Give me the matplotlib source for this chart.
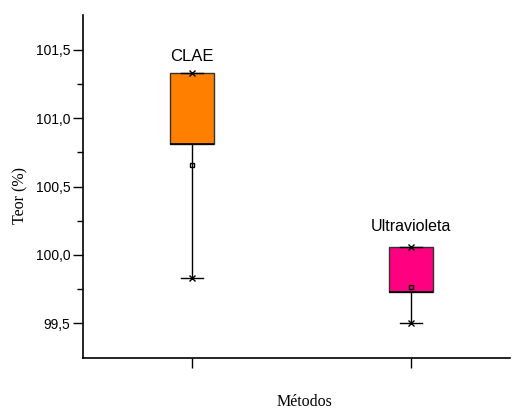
import matplotlib.pyplot as plt
from matplotlib.ticker import MultipleLocator, FixedLocator, FuncFormatter

# values
metodos = ["CLAE", "Ultravioleta"]
q1 = [100.81, 99.73]
q3 = [101.33, 100.056]
minimo = [99.83, 99.50]
maximo = [101.33, 100.056]
media = [100.656, 99.764]
cores = ["#FF8000", "#FF0080"]
menores = [99.75, 100.25, 100.75, 101.25]

fig = plt.figure(figsize=(5.12, 4.12), dpi=100)
ax = fig.add_axes([83 / 512, 1 - 358 / 412, 427 / 512, 343 / 412])

stats = []
for i, nome in enumerate(metodos):
    stats.append({
        "label": nome,
        "q1": q1[i],
        "q3": q3[i],
        "med": q1[i],
        "whislo": minimo[i],
        "whishi": maximo[i],
        "fliers": [],
    })

pos = [1, 2]
bp = ax.bxp(
    stats,
    positions=pos,
    widths=0.2,
    patch_artist=True,
    showfliers=False,
    boxprops=dict(linewidth=1.0, edgecolor="#333333"),
    whiskerprops=dict(linewidth=1.0, color="black"),
    capprops=dict(linewidth=1.0, color="black"),
    medianprops=dict(linewidth=1.2, color="black"),
    capwidths=0.1,
)
for patch, c in zip(bp["boxes"], cores):
    patch.set_facecolor(c)

# max / min crosses and mean squares
for i in range(len(metodos)):
    ax.plot([pos[i], pos[i]], [minimo[i], maximo[i]], linestyle="none",
            marker="x", markersize=3.8, color="black", markeredgewidth=1.0, zorder=4)
    ax.plot(pos[i], media[i], linestyle="none", marker="s", markersize=3,
            markerfacecolor="none", markeredgecolor="black", markeredgewidth=1.0, zorder=4)

# labels over each box
ax.text(1, 101.417, "CLAE", ha="center", va="baseline", fontsize=12,
        family="Liberation Sans")
ax.text(2, 100.175, "Ultravioleta", ha="center", va="baseline", fontsize=11.5,
        family="Liberation Sans")

ax.set_xlim(0.5, 2.453)
ax.set_ylim(99.246, 101.754)
ax.set_xticks(pos)
ax.set_xticklabels([])
ax.yaxis.set_major_locator(MultipleLocator(0.5))
ax.yaxis.set_minor_locator(FixedLocator(menores))
ax.yaxis.set_major_formatter(FuncFormatter(lambda v, p: f"{v:.1f}".replace(".", ",")))
for lab in ax.get_yticklabels():
    lab.set_family("Liberation Sans")
    lab.set_fontsize(10)

ax.tick_params(axis="y", which="major", direction="out", length=7, width=1.0, pad=2)
ax.tick_params(axis="y", which="minor", direction="out", length=4, width=1.0)
ax.tick_params(axis="x", which="major", direction="out", length=7, width=1.0)

ax.spines["top"].set_visible(False)
ax.spines["right"].set_visible(False)
ax.spines["left"].set_linewidth(1.2)
ax.spines["bottom"].set_linewidth(1.2)

fig.text(20 / 512, 1 - 196 / 412, "Teor (%)", rotation=90, ha="center", va="center",
         fontsize=11.5, family="Liberation Serif")
fig.text(305 / 512, 1 - 402 / 412, "Métodos", ha="center", va="center",
         fontsize=11.5, family="Liberation Serif")

fig.savefig("out.png", dpi=100)
